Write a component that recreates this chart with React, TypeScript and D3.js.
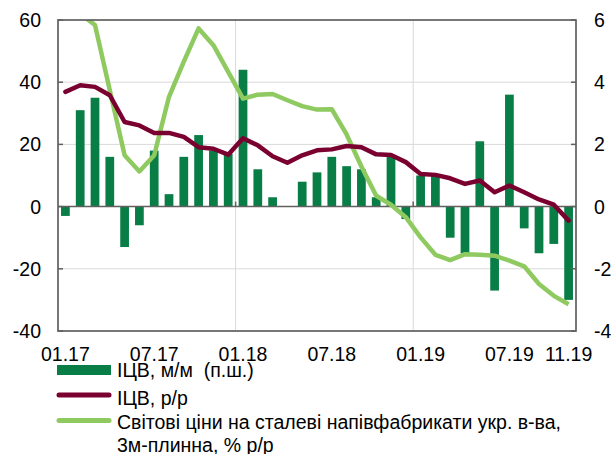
import React from "react";
import * as d3 from "d3";

const months = [
    "01.17", "02.17", "03.17", "04.17", "05.17", "06.17", "07.17", "08.17", "09.17", "10.17", "11.17", "12.17",
    "01.18", "02.18", "03.18", "04.18", "05.18", "06.18", "07.18", "08.18", "09.18", "10.18", "11.18", "12.18",
    "01.19", "02.19", "03.19", "04.19", "05.19", "06.19", "07.19", "08.19", "09.19", "10.19", "11.19"
];

// ІЦВ, м/м (right scale)
const mom = [
    -0.3, 3.1, 3.5, 1.6, -1.3, -0.6, 1.8, 0.4, 1.6, 2.3, 1.8, 1.7,
    4.4, 1.2, 0.3, 0, 0.8, 1.1, 1.6, 1.3, 1.2, 0.3, 1.6, -0.4,
    1.0, 1.0, -1.0, -1.5, 2.1, -2.7, 3.6, -0.7, -1.5, -1.2, -3.0
];

// ІЦВ, р/р (left scale)
const yoy = [
    36.9, 39, 38.5, 35.8, 27.2, 26.1, 23.7, 23.7, 22.4, 19.1, 18.6, 16.7,
    22, 19.7, 16.2, 14.1, 16.5, 18.1, 18.4, 19.5, 19.1, 16.8, 16.6, 14.3,
    10.5, 10.2, 9.1, 7.3, 8.4, 4.6, 6.8, 4.6, 2.3, 0.6, -4.5
];

// world steel prices, 3m moving, % y/y (left scale)
const steel = [
    68, 62, 58.4, 37.4, 16.5, 11.3, 16.5, 35.3, 46.6, 57.3, 51.9, 43.3,
    34.7, 36, 36.2, 34.2, 32.3, 31.2, 31.3, 23.2, 12.9, 3.5, 0.6, -3.4,
    -9.9, -15.5, -17.2, -15.3, -15.5, -15.8, -17.4, -19.2, -24.9, -28.7, -31.4
];

const tickLabels = ["01.17", "07.17", "01.18", "07.18", "01.19", "07.19", "11.19"];
const leftTicks = [60, 40, 20, 0, -20, -40];
const rightTicks = [6, 4, 2, 0, -2, -4];
const gridYears = ["01.18", "01.19"];

const W = 611;
const H = 454;
const plot = { left: 58, right: 576, top: 20, bottom: 331 };
const font = "'Liberation Sans', Arial, sans-serif";
const fs = 19.5;

const barColor = "#087d46";
const yoyColor = "#7a0030";
const steelColor = "#8fca60";
const gridColor = "#d9d9d9";
const axisColor = "#606060";

const App = () => {
    const x = d3.scaleBand()
        .domain(months)
        .range([plot.left, plot.right])
        .paddingInner(0.41)
        .paddingOuter(0.205);
    const step = x.step();
    const cx = (m: string) => (x(m) as number) + x.bandwidth() / 2;
    const edge = (m: string) => (x(m) as number) - x.paddingInner() * step / 2;

    const yL = d3.scaleLinear().domain([-40, 60]).range([plot.bottom, plot.top]);
    const yR = d3.scaleLinear().domain([-4, 6]).range([plot.bottom, plot.top]);

    const line = d3.line<number>().x((d, i) => cx(months[i])).y(d => yL(d));

    return (
        <svg
            width={W}
            height={H}
            style={{ position: "absolute", left: 0, top: 0, fontFamily: font }}
        >
            <defs>
                <clipPath id="plotClip">
                    <rect x={plot.left} y={plot.top} width={plot.right - plot.left} height={plot.bottom - plot.top} />
                </clipPath>
            </defs>
            <rect width={W} height={H} fill="#fff" />

            {/* grid */}
            {[40, 20, -20].map(v => (
                <line key={v} x1={plot.left} x2={plot.right} y1={yL(v)} y2={yL(v)} stroke={gridColor} strokeWidth={1} />
            ))}
            {gridYears.map(m => (
                <line key={m} x1={edge(m)} x2={edge(m)} y1={plot.top} y2={plot.bottom} stroke={gridColor} strokeWidth={1} />
            ))}

            {/* bars */}
            {mom.map((v, i) => (
                <rect
                    key={months[i]}
                    x={x(months[i])}
                    width={x.bandwidth()}
                    y={Math.min(yR(v), yR(0))}
                    height={Math.abs(yR(v) - yR(0))}
                    fill={barColor}
                />
            ))}

            {/* zero line */}
            <line x1={plot.left} x2={plot.right} y1={yL(0)} y2={yL(0)} stroke={axisColor} strokeWidth={1.5} />
            {gridYears.map(m => (
                <line key={m} x1={edge(m)} x2={edge(m)} y1={yL(0) - 5} y2={yL(0)} stroke={axisColor} strokeWidth={1.5} />
            ))}

            {/* lines */}
            <g clipPath="url(#plotClip)">
                <path d={line(steel) ?? undefined} fill="none" stroke={steelColor} strokeWidth={4.5} strokeLinejoin="round" />
            </g>
            <path d={line(yoy) ?? undefined} fill="none" stroke={yoyColor} strokeWidth={4.5} strokeLinejoin="round" strokeLinecap="round" />

            {/* frame */}
            <rect x={plot.left} y={plot.top} width={plot.right - plot.left} height={plot.bottom - plot.top}
                fill="none" stroke={axisColor} strokeWidth={1.7} />
            {leftTicks.map(v => (
                <line key={v} x1={plot.left} x2={plot.left + 5} y1={yL(v)} y2={yL(v)} stroke={axisColor} strokeWidth={1.5} />
            ))}
            {rightTicks.map(v => (
                <line key={v} x1={plot.right - 5} x2={plot.right} y1={yR(v)} y2={yR(v)} stroke={axisColor} strokeWidth={1.5} />
            ))}

            {/* axis labels */}
            {leftTicks.map(v => (
                <text key={v} x={41} y={yL(v) + 7} textAnchor="end" fontSize={fs} fill="#000">{v}</text>
            ))}
            {rightTicks.map(v => (
                <text key={v} x={594} y={yR(v) + 7} textAnchor="start" fontSize={fs} fill="#000">{v}</text>
            ))}
            {tickLabels.map(t => (
                <text key={t} x={cx(t)} y={361} textAnchor="middle" fontSize={fs} fill="#000">{t}</text>
            ))}

            {/* legend */}
            <rect x={57} y={365} width={54} height={10} fill={barColor} />
            <text x={117} y={377} fontSize={fs} style={{ whiteSpace: "pre" }}>ІЦВ, м/м  (п.ш.)</text>
            <line x1={59} x2={109} y1={395} y2={395} stroke={yoyColor} strokeWidth={5} strokeLinecap="round" />
            <text x={117} y={405} fontSize={fs}>ІЦВ, р/р</text>
            <line x1={59} x2={109} y1={420.5} y2={420.5} stroke={steelColor} strokeWidth={5} strokeLinecap="round" />
            <text x={117} y={428.5} fontSize={fs}>Світові ціни на сталеві напівфабрикати укр. в-ва,</text>
            <text x={117} y={452} fontSize={fs}>3м-плинна, % р/р</text>
        </svg>
    );
};

export default App;
